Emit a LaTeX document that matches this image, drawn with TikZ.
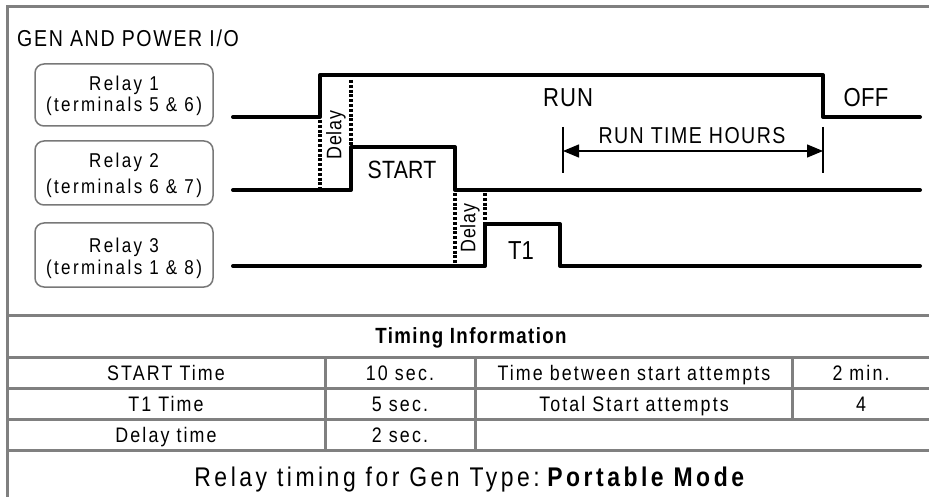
\documentclass[tikz,border=0pt]{standalone}
\usepackage{fontspec}
\setmainfont{Liberation Sans}[FakeStretch=0.85]
\usetikzlibrary{arrows.meta}
\newcommand\fs[2]{\fontsize{#1}{#1}\selectfont\addfontfeature{LetterSpace=#2}}
\definecolor{framegray}{RGB}{128,128,128}
\definecolor{boxgray}{RGB}{120,120,120}
\begin{document}
\begin{tikzpicture}[x=1pt,y=-1pt,
  frameline/.style={draw=framegray,line width=3pt},
  relaybox/.style={draw=boxgray,line width=1.5pt,rounded corners=9pt,minimum width=178pt,inner sep=0pt},
  lbl/.style={font={\fs{20}{12}},inner sep=0pt},
  sig/.style={line width=4pt,line cap=round,line join=round},
  dotline/.style={line width=3.2pt,dash pattern=on 3pt off 1.8pt},
  dly/.style={font={\fs{21}{5}},inner sep=0pt,rotate=90},
  cell/.style={font={\fs{21}{10}},inner sep=0pt,anchor=base},
  dim/.style={line width=1.3pt}]
\useasboundingbox (0,0) rectangle (929,497);

% frame
\draw[frameline] (7.5,497) -- (7.5,7) -- (929,7);

% title
\node[font={\fs{23}{7.3}},inner sep=0pt,anchor=base west] (title) at (17,47) {GEN AND POWER I/O};

% relay boxes
\node[relaybox,minimum height=62pt] (box1) at (124,95) {};
\node[relaybox,minimum height=64pt] (box2) at (124,173) {};
\node[relaybox,minimum height=64pt] (box3) at (124,255) {};
\node[lbl,anchor=base] (r1a) at (124,91) {Relay 1};
\node[lbl,anchor=base] (r1b) at (124,112) {(terminals 5 \& 6)};
\node[lbl,anchor=base] (r2a) at (124,168) {Relay 2};
\node[lbl,anchor=base] (r2b) at (124,194) {(terminals 6 \& 7)};
\node[lbl,anchor=base] (r3a) at (124,252) {Relay 3};
\node[lbl,anchor=base] (r3b) at (124,274) {(terminals 1 \& 8)};

% waveforms
\draw[sig] (233,117) -- (320,117) -- (320,75) -- (823,75) -- (823,117) -- (920,117);
\draw[sig] (233,190) -- (351,190) -- (351,147) -- (455,147) -- (455,190) -- (920,190);
\draw[sig] (233,266) -- (485,266) -- (485,224) -- (560,224) -- (560,266) -- (920,266);

% delay markers
\draw[dotline] (320,120) -- (320,188);
\draw[dotline] (351,80) -- (351,146);
\draw[dotline] (455,193) -- (455,264);
\draw[dotline] (485,193) -- (485,264);
\node[dly] (d1) at (336,135) {Delay};
\node[dly] (d2) at (470,228) {Delay};

% wave labels
\node[font={\fs{26}{4}},inner sep=0pt] (run) at (568,98) {RUN};
\node[font={\fs{26}{1}},inner sep=0pt] (off) at (866,98) {OFF};
\node[font={\fs{25}{1}},inner sep=0pt] (start) at (402,170) {START};
\node[font={\fs{26}{0}},inner sep=0pt] (t1) at (521,251) {T1};

% run time hours dimension
\coordinate (tka) at (563,127);
\coordinate (tkb) at (563,173);
\coordinate (tkc) at (823,127);
\coordinate (tkd) at (823,173);
\coordinate (tl) at (563,151);
\coordinate (tr) at (823,151);
\draw[dim] (tka) -- (tkb);
\draw[dim] (tkc) -- (tkd);
\draw[dim,{Triangle[length=16pt,width=13pt]}-{Triangle[length=16pt,width=13pt]}] (tl) -- (tr);
\node[font={\fs{23}{6.5}},inner sep=0pt] (rth) at (692,136) {RUN TIME HOURS};

% table
\draw[frameline] (7.5,315) -- (929,315);
\draw[frameline] (7.5,357) -- (929,357);
\draw[frameline] (7.5,388) -- (929,388);
\draw[frameline] (7.5,419) -- (929,419);
\draw[frameline] (7.5,450) -- (929,450);
\draw[frameline] (325,357) -- (325,450);
\draw[frameline] (475,357) -- (475,450);
\draw[frameline] (792,357) -- (792,419);

\node[font={\fs{22}{6.3}\bfseries},inner sep=0pt,anchor=base] (hdr) at (471,343) {Timing Information};

\node[cell] (c11) at (166,380) {START Time};
\node[cell] (c12) at (400,380) {10 sec.};
\node[cell] (c13) at (634,380) {Time between start attempts};
\node[cell] (c14) at (861,380) {2 min.};
\node[cell] (c21) at (166,411) {T1 Time};
\node[cell] (c22) at (400,411) {5 sec.};
\node[cell] (c23) at (634,411) {Total Start attempts};
\node[cell] (c24) at (861,411) {4};
\node[cell] (c31) at (166,442) {Delay time};
\node[cell] (c32) at (400,442) {2 sec.};

\node[font={\fs{27}{13}},inner sep=0pt,anchor=base] (cap) at (471,486) {Relay timing for Gen Type:\hspace{4pt}\textbf{Portable Mode}};
\end{tikzpicture}
\end{document}
